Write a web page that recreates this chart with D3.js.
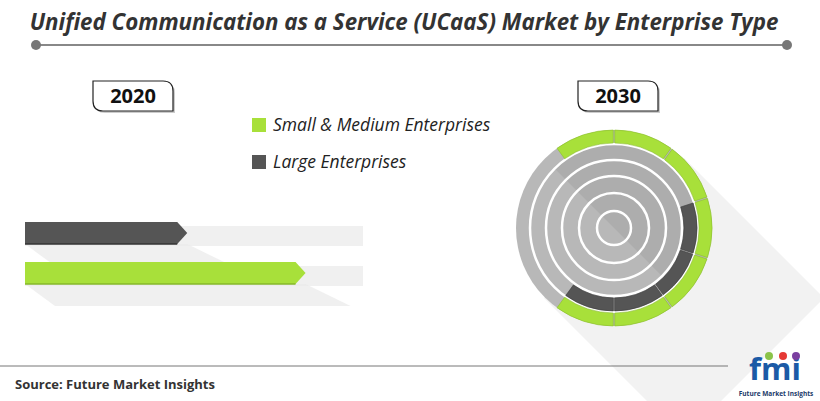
<!DOCTYPE html>
<html><head><meta charset="utf-8">
<script src="https://cdn.jsdelivr.net/npm/d3@7"></script>
<style>body{margin:0;background:#fff}svg{display:block}text{font-family:"Open Sans","Noto Sans",sans-serif}</style>
</head><body><svg id="c" width="820" height="401"></svg>
<script>
const categories = ["Small & Medium Enterprises", "Large Enterprises"];
const colors = ["#a8e03a", "#555555"];
const years = ["2020", "2030"];
const share2020 = [83, 48];          // bar lengths as % of track (SME, Large)
const share2030 = [70, 40];          // outer ring (SME) / second ring (Large) as % of circle
const ringStart2030 = [-36, 72];     // start angle (deg) of each ring's highlighted arc
const segmentDeg = 36;

const svg = d3.select("#c");

svg.append("text").attr("x", 404).attr("y", 30).attr("text-anchor", "middle")
  .attr("font-size", 22.3).attr("font-weight", 700).attr("font-style", "italic").attr("fill", "#333")
  .text("Unified Communication as a Service (UCaaS) Market by Enterprise Type");
svg.append("line").attr("x1", 36).attr("x2", 787).attr("y1", 45).attr("y2", 45).attr("stroke", "#888").attr("stroke-width", 2);
[36, 787].forEach(x => svg.append("circle").attr("cx", x).attr("cy", 45).attr("r", 5).attr("fill", "#777"));

function yearBox(x, label) {
  const w = 80, h = 30, y = 81, r = 10;
  const p = `M${x},${y}H${x+w-r}Q${x+w},${y} ${x+w},${y+r}V${y+h}H${x+r}Q${x},${y+h} ${x},${y+h-r}Z`;
  svg.append("path").attr("d", p).attr("transform", "translate(2,2)").attr("fill", "#ccc");
  svg.append("path").attr("d", p).attr("fill", "#fff").attr("stroke", "#222").attr("stroke-width", 1.2);
  svg.append("text").attr("x", x + w/2).attr("y", y + 22).attr("text-anchor", "middle")
    .attr("font-size", 20).attr("font-weight", 700).attr("fill", "#111").text(label);
}
yearBox(93, years[0]);
yearBox(578, years[1]);

categories.forEach((c, i) => {
  const y = 118 + i * 37;
  svg.append("rect").attr("x", 252).attr("y", y).attr("width", 14).attr("height", 14).attr("fill", colors[i]);
  svg.append("text").attr("x", 273).attr("y", y + 13).attr("font-size", 17.5).attr("font-style", "italic").attr("fill", "#222").text(c);
});

const x = d3.scaleLinear().domain([0, 100]).range([25, 363]);
const barY = [262, 222], bh = 22;
[1, 0].forEach(i => {
  const y = barY[i], xe = x(share2020[i]);
  svg.append("rect").attr("x", x(0)).attr("y", y + 4).attr("width", x(100) - x(0)).attr("height", bh - 2).attr("fill", "#f0f0f0");
  svg.append("path").attr("d", `M${x(0)},${y+bh}L${xe},${y+bh}L${xe+45},${y+bh+22}L${x(0)+30},${y+bh+22}Z`).attr("fill", "#e9e9e9").attr("opacity", 0.7);
  svg.append("path").attr("d", `M${x(0)},${y}H${xe-10}L${xe},${y+bh/2}L${xe-10},${y+bh}H${x(0)}Z`).attr("fill", colors[i]);
  svg.append("path").attr("d", `M${x(0)},${y+bh}H${xe-10}`).attr("stroke", i === 0 ? "#86b82a" : "#333").attr("stroke-width", 1.5);
});

const cx = 614, cy = 228;
const g = svg.append("g").attr("transform", `translate(${cx},${cy})`);
g.append("path").attr("d", `M${-70},${70}L${70},${-70}L${210},${70}L${70},${210}Z`).attr("fill", "#f2f2f2");
g.append("circle").attr("r", 98).attr("fill", "#b8b8b8");
g.append("path").attr("d", d3.arc()({innerRadius: 0, outerRadius: 84, startAngle: -Math.PI/4, endAngle: 3*Math.PI/4})).attr("fill", "#adadad");
[84, 68, 52, 35, 17].forEach(r => g.append("circle").attr("r", r).attr("fill", "none").attr("stroke", "#fff").attr("stroke-width", 2.5));
const rings = [{inner: 85, outer: 98}, {inner: 70, outer: 83}];
const rad = Math.PI / 180;
share2030.forEach((v, i) => {
  const start = ringStart2030[i], end = start + v / 100 * 360;
  const segs = [];
  for (let a = start; a < end - 0.1; a += segmentDeg) segs.push([a, Math.min(a + segmentDeg, end)]);
  const arc = d3.arc().innerRadius(rings[i].inner).outerRadius(rings[i].outer).padAngle(0.012);
  g.selectAll(null).data(segs).join("path")
    .attr("d", d => arc({startAngle: d[0] * rad, endAngle: d[1] * rad}))
    .attr("fill", colors[i]).attr("stroke", i === 0 ? "#8cbf2a" : "#3a3a3a").attr("stroke-width", 0.6);
});

svg.append("line").attr("x1", 0).attr("x2", 728).attr("y1", 366).attr("y2", 366).attr("stroke", "#777").attr("stroke-width", 1);
svg.append("text").attr("x", 15).attr("y", 389).attr("font-size", 13).attr("font-weight", 700).attr("fill", "#333").text("Source: Future Market Insights");
const lg = svg.append("g");
lg.append("text").attr("x", 775).attr("y", 380).attr("text-anchor", "middle").attr("font-family", "Liberation Serif, serif")
  .attr("font-size", 31).attr("font-weight", 700).attr("fill", "#1b5aa6").text("fmi");
[["#8bc34a", 769], ["#e53935", 783], ["#7b3fa0", 796]].forEach(([c, xx]) => lg.append("circle").attr("cx", xx).attr("cy", 356).attr("r", 4).attr("fill", c));
lg.append("text").attr("x", 776).attr("y", 396).attr("text-anchor", "middle").attr("font-size", 6.5).attr("font-weight", 700).attr("fill", "#1b3a6a").text("Future Market Insights");
</script></body></html>
